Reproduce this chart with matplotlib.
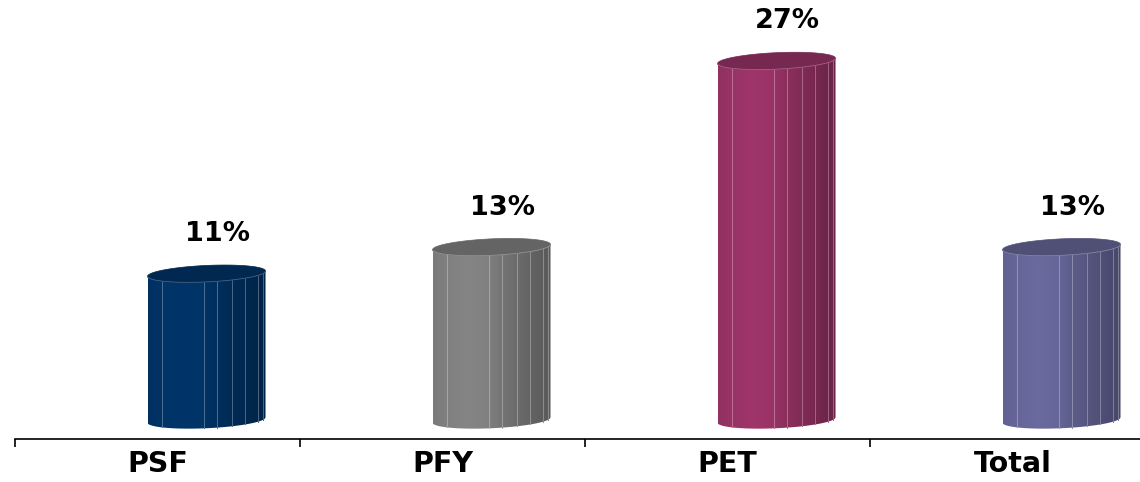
import numpy as np
import matplotlib
matplotlib.use("Agg")
import matplotlib.pyplot as plt
from matplotlib.colors import to_rgb
from matplotlib.patches import Polygon

categories = ["PSF", "PFY", "PET", "Total"]
values = [11, 13, 27, 13]
value_labels = ["11%", "13%", "27%", "13%"]
bar_colors = ["#003366", "#808080", "#993366", "#666699"]

# cylinder styling (data units)
DEPTH_DX = 0.172      # sideways shift of the cylinders relative to category centre
HALF_W = 0.207        # half-width of each cylinder
ELL_B = 0.62          # half-height of the elliptical cap
ELL_S = 0.2           # tilt of the ellipse (right end higher)
FACET_LINES = [0.125, 0.475, 0.59, 0.72, 0.83, 0.94, 0.98]
LABEL_FONT = "DejaVu Sans"


def shade(color, f):
    r, g, b = to_rgb(color)
    return (min(r * f, 1), min(g * f, 1), min(b * f, 1))


def lighten(color, t):
    r, g, b = to_rgb(color)
    return (r + (1 - r) * t, g + (1 - g) * t, b + (1 - b) * t)


def brightness(frac):
    # light from the left-front: brightest around a third of the width
    pts = [0.0, 0.12, 0.3, 0.47, 0.6, 0.75, 0.9, 1.0]
    fac = [0.95, 1.0, 1.04, 1.0, 0.9, 0.82, 0.74, 0.7]
    return np.interp(frac, pts, fac)


def front_curve(cy, u):
    return cy - ELL_B * np.sqrt(np.clip(1 - u ** 2, 0, 1)) + ELL_S * u


def draw_cylinder(ax, cx, top, color):
    u = np.linspace(-1, 1, 200)
    xs = cx + HALF_W * u
    yb = front_curve(0.0, u)
    yt = front_curve(top, u)
    body = Polygon(np.column_stack([np.concatenate([xs, xs[::-1]]),
                                    np.concatenate([yb, yt[::-1]])]),
                   closed=True, fc="none", ec="none", transform=ax.transData)
    ax.add_patch(body)
    frac = np.linspace(0, 1, 300)
    grad = np.array([[shade(color, brightness(f)) for f in frac]])
    im = ax.imshow(grad, extent=[cx - HALF_W, cx + HALF_W, yb.min(), yt.max()],
                   aspect="auto", interpolation="bilinear", zorder=2, origin="lower")
    im.set_clip_path(body)
    # facet edges
    for f in FACET_LINES:
        uu = 2 * f - 1
        x = cx + HALF_W * uu
        ax.plot([x, x], [front_curve(0.0, uu), front_curve(top, uu)],
                color=lighten(shade(color, brightness(f)), 0.3), lw=0.7, zorder=3)
    # top cap
    t = np.linspace(0, 2 * np.pi, 200)
    ex = cx + HALF_W * np.cos(t)
    ey = top + ELL_B * np.sin(t) + ELL_S * np.cos(t)
    ax.fill(ex, ey, color=shade(color, 0.78), lw=0.5, ec=shade(color, 0.78), zorder=4)
    ax.plot(xs, yt, color=lighten(shade(color, 0.85), 0.25), lw=0.6, zorder=5)


fig = plt.figure(figsize=(11.4, 4.82), dpi=100)
ax = fig.add_axes([15 / 1140, 43 / 482, 1.0, 439 / 482])

for i, (v, c, lab) in enumerate(zip(values, bar_colors, value_labels)):
    draw_cylinder(ax, i + DEPTH_DX, v, c)
    ax.text(i + 0.21, v + 2.45, lab, ha="center", va="baseline",
            fontsize=19.5, fontweight="bold", family=LABEL_FONT, color="black")

ax.set_xlim(-0.5, 3.5)
ax.set_ylim(-1.43, 31.58)

for s in ["top", "right", "left"]:
    ax.spines[s].set_visible(False)
ax.spines["bottom"].set_linewidth(1.2)
ax.set_yticks([])
ax.set_xticks(np.arange(len(categories) + 1) - 0.5)
ax.set_xticklabels([])
ax.tick_params(axis="x", which="major", length=6, width=1.2, direction="out")
ax.set_xticks(np.arange(len(categories)), minor=True)
ax.set_xticklabels(categories, minor=True, fontsize=20.5, fontweight="bold",
                   family=LABEL_FONT)
ax.tick_params(axis="x", which="minor", length=0, pad=8)

fig.savefig("out.png", dpi=100)
